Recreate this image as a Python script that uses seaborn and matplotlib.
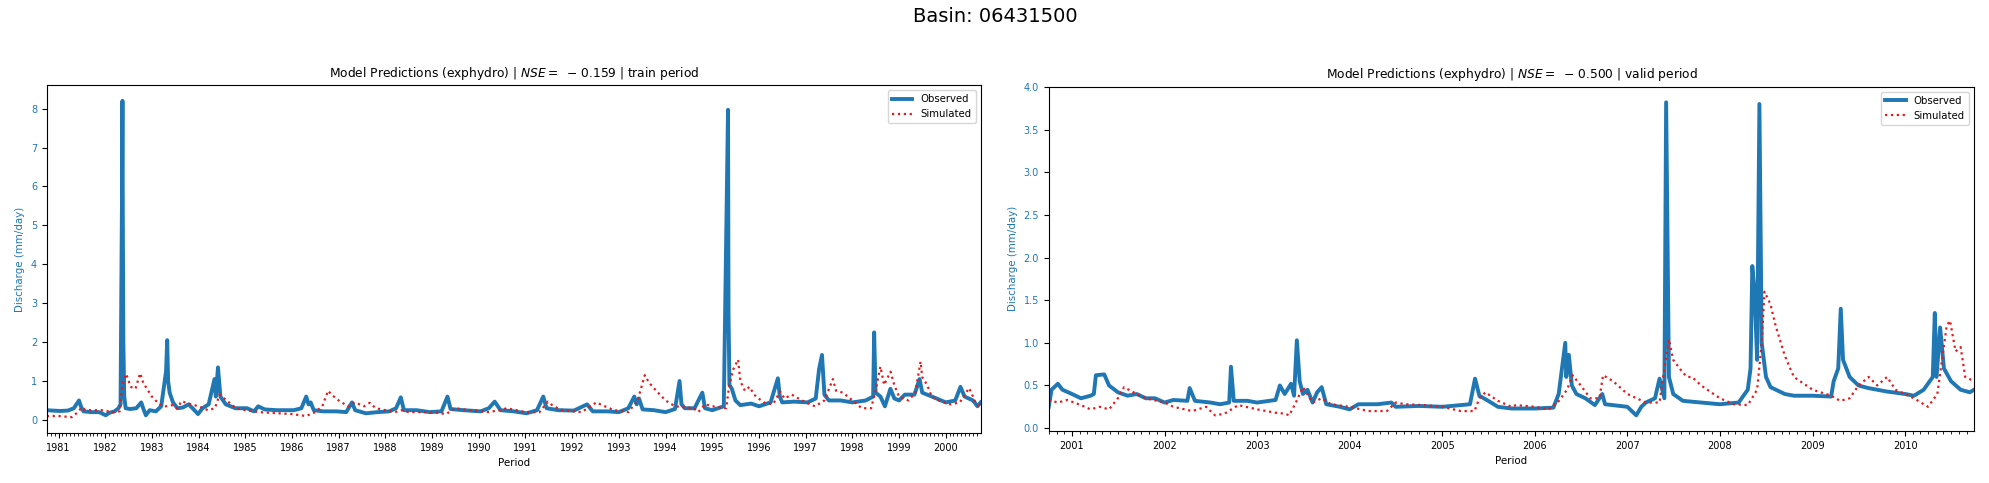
import pandas as pd
import seaborn as sns
import matplotlib.pyplot as plt
import matplotlib.dates as mdates

basin = "06431500"
model_name = "exphydro"
nse_train = -0.159
nse_valid = -0.500

# train period, observed discharge (mm/day)
obs_train_dates = [
    "1980-10-01", "1980-11-15", "1981-01-15", "1981-03-15", "1981-05-01", "1981-06-10", "1981-06-25", "1981-07-15",
    "1981-09-15", "1981-11-15", "1982-01-05", "1982-02-01", "1982-03-15", "1982-04-15", "1982-05-01", "1982-05-12",
    "1982-05-16", "1982-05-19", "1982-05-23", "1982-05-30", "1982-06-10", "1982-07-15", "1982-09-01", "1982-10-10",
    "1982-10-25", "1982-11-15", "1982-12-15", "1983-02-01", "1983-03-15", "1983-04-22", "1983-05-01", "1983-05-08",
    "1983-05-20", "1983-06-15", "1983-07-20", "1983-09-01", "1983-10-15", "1983-11-15", "1983-12-28", "1984-02-01",
    "1984-03-20", "1984-05-05", "1984-05-15", "1984-06-01", "1984-06-20", "1984-08-01", "1984-10-15", "1985-01-15",
    "1985-03-10", "1985-04-12", "1985-06-01", "1985-09-01", "1986-01-15", "1986-03-15", "1986-04-22", "1986-05-10",
    "1986-05-27", "1986-06-20", "1986-09-01", "1986-12-15", "1987-03-01", "1987-04-15", "1987-05-10", "1987-08-01",
    "1987-11-01", "1988-02-01", "1988-03-25", "1988-05-01", "1988-05-25", "1988-09-01", "1988-12-15", "1989-03-15",
    "1989-05-01", "1989-05-25", "1989-09-01", "1990-01-15", "1990-03-20", "1990-05-05", "1990-06-20", "1990-10-01",
    "1991-01-10", "1991-04-01", "1991-05-20", "1991-06-15", "1991-09-15", "1992-01-15", "1992-04-27", "1992-06-10",
    "1992-10-01", "1993-01-01", "1993-03-15", "1993-05-01", "1993-05-20", "1993-06-07", "1993-07-05", "1993-10-01",
    "1994-01-01", "1994-03-15", "1994-04-20", "1994-05-05", "1994-06-01", "1994-08-15", "1994-10-15", "1994-11-05",
    "1995-01-01", "1995-04-01", "1995-05-04", "1995-05-08", "1995-05-15", "1995-06-03", "1995-07-01", "1995-08-08",
    "1995-11-01", "1996-01-01", "1996-04-01", "1996-05-28", "1996-06-12", "1996-07-01", "1996-10-01", "1997-01-15",
    "1997-03-20", "1997-04-15", "1997-05-08", "1997-05-27", "1997-07-01", "1997-10-01", "1998-01-01", "1998-04-15",
    "1998-06-12", "1998-06-20", "1998-07-01", "1998-08-08", "1998-09-12", "1998-10-25", "1998-11-25", "1999-01-01",
    "1999-02-15", "1999-05-01", "1999-06-10", "1999-07-01", "1999-09-15", "2000-01-01", "2000-03-15", "2000-04-25",
    "2000-05-27", "2000-08-01", "2000-09-05", "2000-09-30",
]
obs_train_q = [
    0.25, 0.24, 0.23, 0.24, 0.30, 0.50, 0.35, 0.22,
    0.20, 0.20, 0.12, 0.18, 0.22, 0.30, 0.40, 5.60,
    8.20, 5.00, 2.00, 0.60, 0.30, 0.28, 0.30, 0.45,
    0.30, 0.12, 0.25, 0.22, 0.35, 1.25, 2.05, 1.00,
    0.70, 0.45, 0.30, 0.32, 0.40, 0.30, 0.15, 0.30,
    0.40, 1.05, 0.60, 1.35, 0.60, 0.40, 0.30, 0.30,
    0.22, 0.35, 0.27, 0.25, 0.25, 0.30, 0.60, 0.40,
    0.45, 0.25, 0.22, 0.22, 0.20, 0.45, 0.25, 0.17,
    0.20, 0.22, 0.30, 0.58, 0.25, 0.25, 0.20, 0.22,
    0.60, 0.28, 0.25, 0.22, 0.30, 0.47, 0.25, 0.22,
    0.17, 0.25, 0.60, 0.30, 0.25, 0.24, 0.40, 0.22,
    0.22, 0.20, 0.30, 0.60, 0.40, 0.55, 0.27, 0.25,
    0.20, 0.28, 1.00, 0.40, 0.30, 0.30, 0.70, 0.30,
    0.25, 0.35, 7.97, 2.75, 0.90, 0.80, 0.50, 0.38,
    0.42, 0.35, 0.45, 1.07, 0.60, 0.45, 0.47, 0.45,
    0.55, 1.30, 1.67, 0.65, 0.50, 0.50, 0.45, 0.50,
    0.60, 2.25, 0.70, 0.60, 0.35, 0.80, 0.55, 0.50,
    0.65, 0.65, 1.05, 0.70, 0.60, 0.45, 0.50, 0.85,
    0.60, 0.50, 0.35, 0.45,
]

# train period, simulated discharge
sim_train_dates = [
    "1980-10-01", "1981-01-01", "1981-04-15", "1981-06-01", "1981-07-01", "1981-08-01", "1981-12-01", "1982-03-01",
    "1982-04-25", "1982-05-15", "1982-06-14", "1982-07-20", "1982-08-26", "1982-10-01", "1982-10-26", "1983-01-01",
    "1983-03-01", "1983-04-20", "1983-06-15", "1983-07-20", "1983-08-20", "1983-11-05", "1984-01-01", "1984-03-15",
    "1984-05-08", "1984-06-14", "1984-08-08", "1984-10-19", "1985-01-01", "1985-04-20", "1986-01-01", "1986-04-20",
    "1986-07-01", "1986-08-26", "1986-10-10", "1986-11-06", "1987-01-01", "1987-03-15", "1987-05-08", "1987-07-19",
    "1987-09-01", "1987-10-19", "1988-01-01", "1988-03-15", "1988-05-08", "1988-07-01", "1989-01-01", "1989-04-20",
    "1989-07-01", "1989-10-19", "1990-03-15", "1990-06-14", "1990-08-08", "1991-01-01", "1991-04-20", "1991-06-25",
    "1991-08-08", "1991-10-19", "1992-03-15", "1992-07-08", "1992-09-13", "1992-11-24", "1993-03-15", "1993-05-27",
    "1993-07-22", "1993-08-26", "1993-10-19", "1994-01-01", "1994-03-15", "1994-08-08", "1994-09-13", "1994-11-06",
    "1995-01-01", "1995-04-20", "1995-05-12", "1995-06-14", "1995-07-22", "1995-08-08", "1995-09-13", "1995-10-19",
    "1995-11-24", "1996-02-05", "1996-04-20", "1996-06-14", "1996-07-19", "1996-09-13", "1996-11-06", "1997-01-01",
    "1997-03-15", "1997-05-27", "1997-08-01", "1997-08-26", "1997-10-19", "1998-01-01", "1998-03-15", "1998-05-27",
    "1998-07-01", "1998-08-08", "1998-09-06", "1998-10-26", "1998-11-24", "1999-01-01", "1999-03-15", "1999-05-08",
    "1999-06-18", "1999-07-01", "1999-08-08", "1999-09-13", "1999-11-06", "2000-02-05", "2000-04-20", "2000-07-01",
    "2000-07-19", "2000-08-26", "2000-09-30",
]
sim_train_q = [
    0.10, 0.10, 0.07, 0.20, 0.32, 0.25, 0.25, 0.20,
    0.22, 0.90, 1.18, 0.85, 0.80, 1.20, 0.95, 0.60,
    0.40, 0.35, 0.38, 0.30, 0.48, 0.40, 0.35, 0.25,
    0.30, 0.65, 0.50, 0.30, 0.25, 0.20, 0.15, 0.10,
    0.20, 0.35, 0.75, 0.65, 0.50, 0.35, 0.45, 0.35,
    0.44, 0.30, 0.25, 0.20, 0.25, 0.20, 0.20, 0.15,
    0.30, 0.25, 0.20, 0.25, 0.30, 0.20, 0.20, 0.47,
    0.35, 0.25, 0.20, 0.45, 0.35, 0.25, 0.20, 0.50,
    1.15, 0.95, 0.75, 0.50, 0.35, 0.30, 0.20, 0.40,
    0.35, 0.30, 0.85, 1.30, 1.55, 1.00, 0.75, 0.85,
    0.65, 0.45, 0.40, 0.73, 0.55, 0.65, 0.55, 0.45,
    0.35, 0.50, 1.05, 0.75, 0.70, 0.50, 0.30, 0.30,
    0.75, 1.37, 0.90, 1.24, 0.90, 0.60, 0.50, 0.70,
    1.50, 1.10, 0.90, 0.60, 0.50, 0.40, 0.45, 0.82,
    0.70, 0.40, 0.35,
]

# valid period, observed discharge
obs_valid_dates = [
    "2000-10-01", "2000-10-12", "2000-11-06", "2000-11-24", "2001-01-01", "2001-02-05", "2001-03-15", "2001-03-28",
    "2001-04-05", "2001-05-08", "2001-05-27", "2001-07-01", "2001-08-08", "2001-09-13", "2001-10-19", "2001-11-24",
    "2002-01-01", "2002-02-05", "2002-04-01", "2002-04-10", "2002-05-01", "2002-07-01", "2002-08-08", "2002-09-13",
    "2002-09-20", "2002-10-01", "2002-11-24", "2003-01-01", "2003-03-15", "2003-04-01", "2003-04-20", "2003-05-15",
    "2003-05-27", "2003-06-07", "2003-06-18", "2003-07-01", "2003-07-19", "2003-08-08", "2003-08-26", "2003-09-13",
    "2003-10-01", "2003-11-24", "2004-01-01", "2004-02-05", "2004-04-20", "2004-06-14", "2004-07-01", "2004-10-01",
    "2005-01-01", "2005-03-15", "2005-04-20", "2005-05-10", "2005-05-27", "2005-07-01", "2005-08-08", "2005-10-01",
    "2006-01-01", "2006-03-15", "2006-04-05", "2006-05-01", "2006-05-05", "2006-05-15", "2006-05-27", "2006-06-14",
    "2006-07-19", "2006-08-26", "2006-09-24", "2006-10-05", "2007-01-01", "2007-02-05", "2007-02-25", "2007-03-15",
    "2007-04-20", "2007-05-08", "2007-05-27", "2007-06-03", "2007-06-14", "2007-07-01", "2007-08-08", "2007-10-19",
    "2008-01-01", "2008-03-15", "2008-04-20", "2008-05-01", "2008-05-08", "2008-05-17", "2008-05-27", "2008-06-05",
    "2008-06-14", "2008-07-01", "2008-07-19", "2008-09-13", "2008-10-19", "2009-01-01", "2009-03-15", "2009-03-25",
    "2009-04-12", "2009-04-22", "2009-05-01", "2009-05-27", "2009-07-01", "2009-08-08", "2009-10-19", "2010-01-01",
    "2010-02-05", "2010-03-15", "2010-04-20", "2010-04-28", "2010-05-05", "2010-05-19", "2010-06-03", "2010-07-01",
    "2010-08-08", "2010-09-13", "2010-09-30",
]
obs_valid_q = [
    0.25, 0.45, 0.52, 0.45, 0.40, 0.35, 0.38, 0.40,
    0.62, 0.63, 0.50, 0.42, 0.38, 0.40, 0.35, 0.35,
    0.30, 0.33, 0.32, 0.47, 0.32, 0.30, 0.28, 0.30,
    0.72, 0.32, 0.32, 0.30, 0.33, 0.50, 0.40, 0.52,
    0.38, 1.03, 0.55, 0.40, 0.45, 0.30, 0.42, 0.48,
    0.28, 0.25, 0.22, 0.28, 0.28, 0.30, 0.25, 0.26,
    0.25, 0.27, 0.28, 0.58, 0.38, 0.32, 0.25, 0.23,
    0.23, 0.24, 0.40, 1.00, 0.60, 0.86, 0.50, 0.40,
    0.35, 0.27, 0.40, 0.28, 0.25, 0.15, 0.25, 0.30,
    0.35, 0.58, 0.35, 3.82, 0.60, 0.40, 0.32, 0.30,
    0.28, 0.30, 0.45, 0.70, 1.90, 1.60, 0.80, 3.80,
    1.00, 0.60, 0.48, 0.40, 0.38, 0.38, 0.37, 0.55,
    0.70, 1.40, 0.80, 0.60, 0.50, 0.47, 0.43, 0.40,
    0.38, 0.45, 0.60, 1.35, 0.60, 1.18, 0.70, 0.55,
    0.45, 0.42, 0.45,
]

# valid period, simulated discharge
sim_valid_dates = [
    "2000-10-01", "2000-11-06", "2000-12-13", "2001-02-05", "2001-03-15", "2001-04-20", "2001-05-27", "2001-07-01",
    "2001-07-25", "2001-09-13", "2001-10-19", "2002-01-01", "2002-02-05", "2002-04-20", "2002-06-14", "2002-07-19",
    "2002-08-26", "2002-10-19", "2003-01-01", "2003-03-15", "2003-04-20", "2003-05-08", "2003-06-03", "2003-07-01",
    "2003-08-08", "2003-09-13", "2003-10-19", "2004-01-01", "2004-03-15", "2004-05-27", "2004-07-01", "2004-08-08",
    "2004-10-19", "2005-01-01", "2005-03-15", "2005-05-08", "2005-05-27", "2005-06-20", "2005-08-08", "2005-10-01",
    "2005-10-19", "2006-01-01", "2006-02-25", "2006-04-01", "2006-05-08", "2006-05-30", "2006-07-01", "2006-08-08",
    "2006-09-13", "2006-09-27", "2006-11-06", "2007-01-01", "2007-03-15", "2007-05-08", "2007-05-27", "2007-06-14",
    "2007-07-01", "2007-08-08", "2007-08-26", "2007-09-13", "2007-10-19", "2008-01-01", "2008-02-25", "2008-04-20",
    "2008-05-27", "2008-06-14", "2008-06-25", "2008-07-19", "2008-08-08", "2008-09-13", "2008-10-19", "2009-01-01",
    "2009-03-15", "2009-04-20", "2009-05-27", "2009-07-01", "2009-08-10", "2009-09-13", "2009-10-22", "2009-11-24",
    "2010-02-05", "2010-04-01", "2010-05-08", "2010-06-14", "2010-06-27", "2010-07-19", "2010-08-08", "2010-08-26",
    "2010-09-30",
]
sim_valid_q = [
    0.33, 0.30, 0.33, 0.27, 0.22, 0.25, 0.22, 0.35,
    0.48, 0.40, 0.35, 0.30, 0.25, 0.20, 0.25, 0.15,
    0.17, 0.27, 0.22, 0.18, 0.17, 0.15, 0.30, 0.48,
    0.30, 0.35, 0.28, 0.25, 0.20, 0.20, 0.30, 0.28,
    0.27, 0.25, 0.20, 0.20, 0.35, 0.42, 0.32, 0.25,
    0.27, 0.25, 0.22, 0.30, 0.45, 0.62, 0.50, 0.35,
    0.35, 0.62, 0.55, 0.40, 0.30, 0.30, 0.70, 1.04,
    0.80, 0.65, 0.60, 0.60, 0.50, 0.35, 0.28, 0.27,
    0.45, 1.00, 1.60, 1.45, 1.20, 0.85, 0.60, 0.45,
    0.38, 0.32, 0.35, 0.50, 0.60, 0.50, 0.60, 0.45,
    0.35, 0.25, 0.40, 1.20, 1.26, 0.90, 0.95, 0.60,
    0.55,
]

periods = [
    ("train", nse_train, obs_train_dates, obs_train_q, sim_train_dates, sim_train_q),
    ("valid", nse_valid, obs_valid_dates, obs_valid_q, sim_valid_dates, sim_valid_q),
]

blue = "#1f77b4"

fig, axes = plt.subplots(1, 2, figsize=(19.9, 4.83), dpi=100)
positions = [[0.0235, 0.1035, 0.4693, 0.7205], [0.527, 0.1077, 0.465, 0.7129]]

for ax, pos, (name, nse, od, oq, sd, sq) in zip(axes, positions, periods):
    ax.set_position(pos)
    obs = pd.DataFrame({"date": pd.to_datetime(od), "q": oq})
    sim = pd.DataFrame({"date": pd.to_datetime(sd), "q": sq})
    sns.lineplot(data=obs, x="date", y="q", ax=ax, color=blue, lw=2.8, label="Observed")
    sns.lineplot(data=sim, x="date", y="q", ax=ax, color="#e41a1c", lw=1.6,
                 linestyle=":", label="Simulated")
    ax.set_xlim(obs["date"].iloc[0], obs["date"].iloc[-1])
    ax.xaxis.set_major_locator(mdates.YearLocator())
    ax.xaxis.set_minor_locator(mdates.MonthLocator())
    ax.xaxis.set_major_formatter(mdates.DateFormatter("%Y"))
    ax.tick_params(axis="both", labelsize=7)
    ax.tick_params(axis="y", labelcolor=blue)
    ax.set_xlabel("Period", fontsize=7.4)
    ax.set_ylabel("Discharge (mm/day)", color=blue, fontsize=7.4)
    # old-style binary minus spacing as in the original figure
    nse_txt = r"\;-\," + f"{abs(nse):.3f}" if nse < 0 else f"{nse:.3f}"
    ax.set_title(f"Model Predictions ({model_name}) | $NSE = {nse_txt}$ | {name} period", fontsize=8.8)
    ax.legend(loc="upper right", fontsize=7.3)

fig.suptitle(f"Basin: {basin}", fontsize=14, y=0.985)
plt.savefig("out.png", dpi=100)
